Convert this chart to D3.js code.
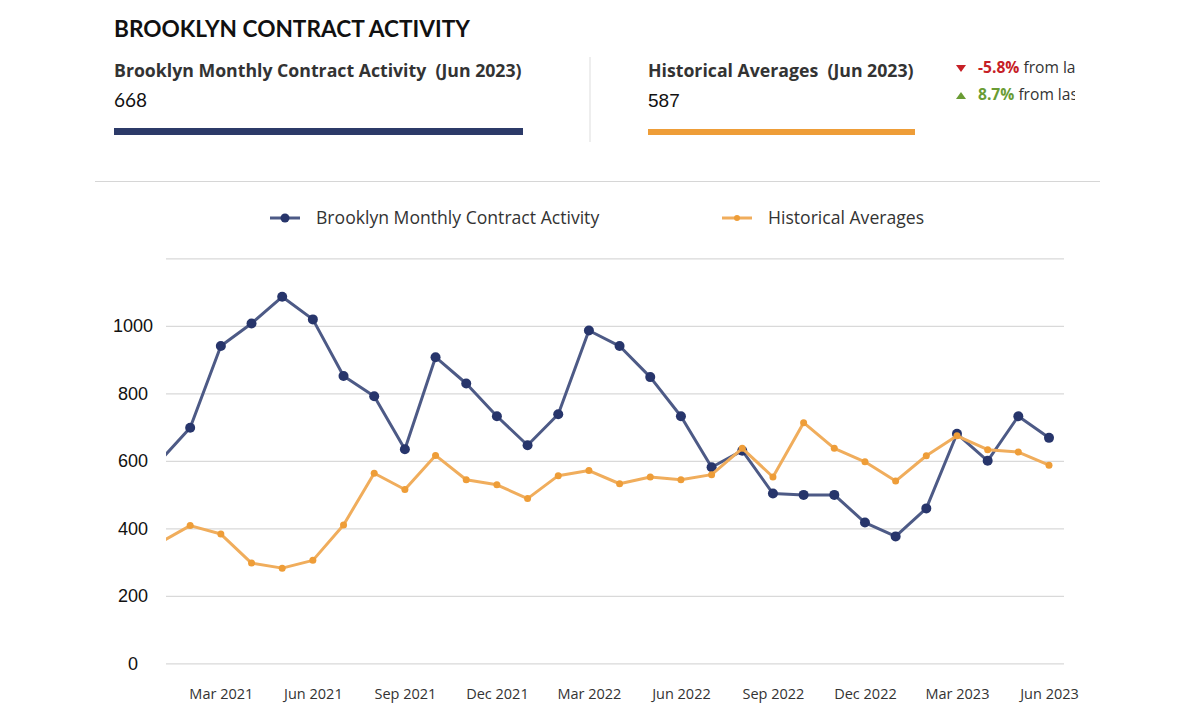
<!DOCTYPE html>
<html>
<head>
<meta charset="utf-8">
<script src="https://cdn.jsdelivr.net/npm/d3@7"></script>
<style>
    body { margin: 0; background: #fff; }
    svg { display: block; }
</style>
</head>
<body>
<div id="chart"></div>
<script>
// DATA - monthly values Jan 2021 .. Jun 2023
var months = ['Jan 2021','Feb 2021','Mar 2021','Apr 2021','May 2021','Jun 2021','Jul 2021','Aug 2021','Sep 2021','Oct 2021','Nov 2021','Dec 2021',
              'Jan 2022','Feb 2022','Mar 2022','Apr 2022','May 2022','Jun 2022','Jul 2022','Aug 2022','Sep 2022','Oct 2022','Nov 2022','Dec 2022',
              'Jan 2023','Feb 2023','Mar 2023','Apr 2023','May 2023','Jun 2023'];
var contractActivity = [598, 698, 940, 1007, 1086, 1019, 851, 791, 634, 907, 829, 732,
                        646, 738, 986, 940, 848, 732, 581, 630, 503, 499, 499, 417,
                        376, 459, 680, 600, 732, 668];
var historicalAvg = [357, 408, 383, 297, 282, 305, 410, 563, 515, 616, 544, 529,
                     488, 556, 571, 532, 552, 544, 559, 637, 552, 713, 637, 597,
                     540, 615, 674, 633, 626, 587];
var xTickMonths = ['Mar 2021','Jun 2021','Sep 2021','Dec 2021','Mar 2022','Jun 2022','Sep 2022','Dec 2022','Mar 2023','Jun 2023'];
var yTicks = [0, 200, 400, 600, 800, 1000, 1200];
var seriesNames = ['Brooklyn Monthly Contract Activity', 'Historical Averages'];

var navy = '#27356b';
var navyLine = '#4d5a86';
var orange = '#ee9d38';
var orangeLine = '#f0ad5c';

var svg = d3.select('#chart').append('svg')
    .attr('width', 1200)
    .attr('height', 720);

// HEADER
svg.append('text')
    .attr('x', 114).attr('y', 37)
    .attr('font-family', 'Lato, sans-serif')
    .attr('font-weight', 700)
    .attr('font-size', 22)
    .attr('textLength', 356)
    .attr('lengthAdjust', 'spacingAndGlyphs')
    .attr('fill', '#111')
    .text('BROOKLYN CONTRACT ACTIVITY');

svg.append('text')
    .attr('x', 114).attr('y', 77)
    .attr('font-family', '"Open Sans", sans-serif')
    .attr('font-weight', 700)
    .attr('font-size', 17.7)
    .attr('fill', '#333')
    .text(seriesNames[0] + '\u00a0 (' + months[months.length - 1] + ')');

svg.append('text')
    .attr('x', 114).attr('y', 107)
    .attr('font-family', 'Lato, sans-serif')
    .attr('font-size', 19)
    .attr('fill', '#111')
    .text(contractActivity[contractActivity.length - 1]);

svg.append('rect')
    .attr('x', 114).attr('y', 128)
    .attr('width', 409).attr('height', 7)
    .attr('fill', '#2c3a68');

// divider between the two summaries
svg.append('line')
    .attr('x1', 590).attr('x2', 590)
    .attr('y1', 57).attr('y2', 142)
    .attr('stroke', '#ddd');

svg.append('text')
    .attr('x', 648).attr('y', 77)
    .attr('font-family', '"Open Sans", sans-serif')
    .attr('font-weight', 700)
    .attr('font-size', 17.7)
    .attr('fill', '#333')
    .text(seriesNames[1] + '\u00a0 (' + months[months.length - 1] + ')');

svg.append('text')
    .attr('x', 648).attr('y', 107)
    .attr('font-family', '"Liberation Sans", Arial, sans-serif')
    .attr('font-size', 19)
    .attr('fill', '#111')
    .text(historicalAvg[historicalAvg.length - 1]);

svg.append('rect')
    .attr('x', 648).attr('y', 129)
    .attr('width', 267).attr('height', 6)
    .attr('fill', orange);

// change indicators, cut off at the right edge like the original
svg.append('clipPath').attr('id', 'changeClip')
    .append('rect').attr('x', 940).attr('y', 50).attr('width', 135).attr('height', 60);

var changes = svg.append('g').attr('clip-path', 'url(#changeClip)');

changes.append('path')
    .attr('d', 'M956,65 L966,65 L961,72 Z')
    .attr('fill', '#c62026');
var t1 = changes.append('text')
    .attr('x', 978).attr('y', 73)
    .attr('font-family', '"Open Sans", sans-serif')
    .attr('font-size', 15.6)
    .attr('fill', '#333');
t1.append('tspan').attr('font-weight', 700).attr('fill', '#c62026').text('-5.8%');
t1.append('tspan').text(' from last month');

changes.append('path')
    .attr('d', 'M956,99 L966,99 L961,92 Z')
    .attr('fill', '#6a9c34');
var t2 = changes.append('text')
    .attr('x', 978).attr('y', 100)
    .attr('font-family', '"Open Sans", sans-serif')
    .attr('font-size', 15.6)
    .attr('fill', '#333');
t2.append('tspan').attr('font-weight', 700).attr('fill', '#6a9c34').text('8.7%');
t2.append('tspan').text(' from last year');

svg.append('line')
    .attr('x1', 95).attr('x2', 1100)
    .attr('y1', 181.5).attr('y2', 181.5)
    .attr('stroke', '#d6d6d6');

// LEGEND
var legendX = [270, 722];
var legendColors = [[navyLine, navy, 4.5], [orangeLine, orange, 3]];
seriesNames.forEach(function(name, i){
    var g = svg.append('g').attr('transform', 'translate(' + legendX[i] + ',218)');
    g.append('line').attr('x1', 0).attr('x2', 30).attr('stroke', legendColors[i][0]).attr('stroke-width', 3);
    g.append('circle').attr('cx', 15).attr('r', legendColors[i][2]).attr('fill', legendColors[i][1]);
    g.append('text')
        .attr('x', 46).attr('y', 6)
        .attr('font-family', '"Open Sans", sans-serif')
        .attr('font-size', 17.6)
        .attr('fill', '#333')
        .text(name);
});

// SCALES
var x = d3.scaleLinear().domain([0, months.length - 1]).range([159.5, 1049]);
var y = d3.scaleLinear().domain([0, 1200]).range([663.3, 258.3]);
var plotLeft = 166, plotRight = 1064;

// gridlines + y labels
var yAxis = svg.append('g')
    .attr('transform', 'translate(' + plotLeft + ',0)')
    .call(d3.axisLeft(y).tickValues(yTicks).tickSize(-(plotRight - plotLeft))
        .tickFormat(function(d){ return d === 1200 ? '' : d; }));
yAxis.select('.domain').remove();
yAxis.selectAll('.tick line').attr('stroke', '#d9d9d9').attr('stroke-width', 1.3);
yAxis.selectAll('.tick text')
    .attr('x', -33)
    .attr('text-anchor', 'middle')
    .attr('font-family', '"Liberation Sans", Arial, sans-serif')
    .attr('font-size', 18)
    .attr('fill', '#111');

// x labels
var xTickIdx = xTickMonths.map(function(m){ return months.indexOf(m); });
var xAxis = svg.append('g')
    .attr('transform', 'translate(0,' + 663.3 + ')')
    .call(d3.axisBottom(x).tickValues(xTickIdx).tickSize(0)
        .tickFormat(function(d){ return months[d]; }));
xAxis.select('.domain').remove();
xAxis.selectAll('.tick text')
    .attr('dy', 0)
    .attr('y', 36)
    .attr('font-family', '"Open Sans", sans-serif')
    .attr('font-size', 14.5)
    .attr('fill', '#333');

// LINES - clipped to the plot area (Jan 2021 sits just off the left edge)
svg.append('clipPath').attr('id', 'plotClip')
    .append('rect').attr('x', plotLeft).attr('y', 240).attr('width', plotRight - plotLeft).attr('height', 440);

var plot = svg.append('g').attr('clip-path', 'url(#plotClip)');

var line = d3.line()
    .x(function(d, i){ return x(i); })
    .y(function(d){ return y(d); });

function drawSeries(values, lineColor, dotColor, r){
    plot.append('path')
        .datum(values)
        .attr('d', line)
        .attr('fill', 'none')
        .attr('stroke', lineColor)
        .attr('stroke-width', 3)
        .attr('stroke-linejoin', 'round');
    plot.selectAll(null)
        .data(values)
        .enter().append('circle')
        .attr('cx', function(d, i){ return x(i); })
        .attr('cy', function(d){ return y(d); })
        .attr('r', r)
        .attr('fill', dotColor);
}

drawSeries(contractActivity, navyLine, navy, 5);
drawSeries(historicalAvg, orangeLine, orange, 3.5);
</script>
</body>
</html>
